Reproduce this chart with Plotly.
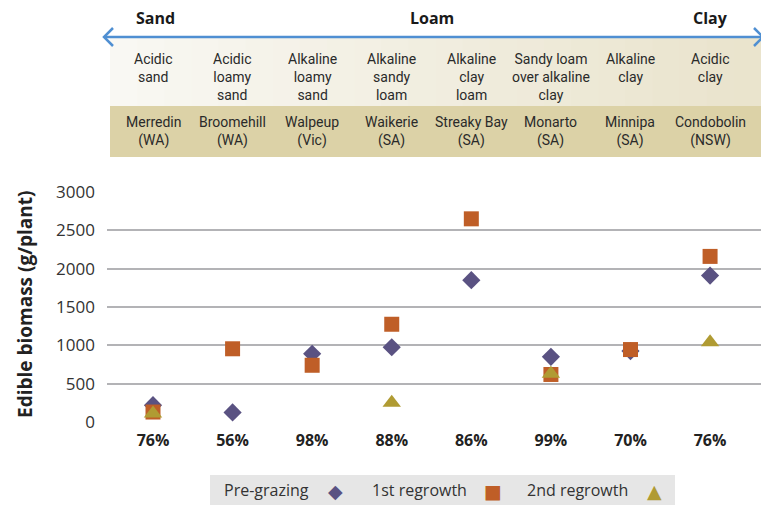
import plotly.graph_objects as go

# ---------------- data ----------------
sites = ["Merredin<br>(WA)", "Broomehill<br>(WA)", "Walpeup<br>(Vic)", "Waikerie<br>(SA)",
         "Streaky Bay<br>(SA)", "Monarto<br>(SA)", "Minnipa<br>(SA)", "Condobolin<br>(NSW)"]
soils = ["Acidic<br>sand", "Acidic<br>loamy<br>sand", "Alkaline<br>loamy<br>sand", "Alkaline<br>sandy<br>loam",
         "Alkaline<br>clay<br>loam", "Sandy loam<br>over alkaline<br>clay", "Alkaline<br>clay", "Acidic<br>clay"]
pct_labels = ["76%", "56%", "98%", "88%", "86%", "99%", "70%", "76%"]
texture_labels = ["Sand", "Loam", "Clay"]
texture_pos = [0.03, 3.5, 7.0]

pre_grazing = [220, 125, 890, 975, 1850, 850, 925, 1910]
regrowth_1 = [130, 955, 740, 1275, 2650, 620, 945, 2160]
regrowth_2 = [110, None, None, 250, None, 630, None, 1040]

yticks = [0, 500, 1000, 1500, 2000, 2500, 3000]

# ---------------- styling ----------------
C_DIA = "#5a5282"
C_SQ = "#bf5e27"
C_TRI = "#b09b33"
FONT = "Open Sans, Noto Sans, sans-serif"
NARROW = "Liberation Sans Narrow, Roboto, Open Sans, sans-serif"

W, H = 761, 505
ML, MR, MT, MB = 107, 0, 192, 83
PW, PH = W - ML - MR, H - MT - MB


def px(x):
    return (x - ML) / PW


def py(y):
    return (H - MB - y) / PH


xi = list(range(len(sites)))

fig = go.Figure()
fig.add_trace(go.Scatter(x=xi, y=pre_grazing, mode="markers", name="Pre-grazing",
                         marker=dict(symbol="diamond", size=14, color=C_DIA), cliponaxis=False))
fig.add_trace(go.Scatter(x=xi, y=regrowth_1, mode="markers", name="1st regrowth",
                         marker=dict(symbol="square", size=15, color=C_SQ), cliponaxis=False))
fig.add_trace(go.Scatter(x=xi, y=regrowth_2, mode="markers", name="2nd regrowth",
                         marker=dict(symbol="triangle-up", size=16, color=C_TRI), cliponaxis=False))

shapes = []
# light header gradient
x0p, x1p = 110, 761
n = 24
c0 = (249, 248, 243)
c1 = (234, 228, 205)
for i in range(n):
    t = i / (n - 1)
    col = "rgb(%d,%d,%d)" % tuple(int(c0[k] + (c1[k] - c0[k]) * t) for k in range(3))
    xa = x0p + (x1p - x0p) * i / n
    xb = x0p + (x1p - x0p) * (i + 1) / n + 1
    shapes.append(dict(type="rect", xref="paper", yref="paper", x0=px(xa), x1=px(xb),
                       y0=py(106), y1=py(38), fillcolor=col, line=dict(width=0), layer="below"))
# darker band
shapes.append(dict(type="rect", xref="paper", yref="paper", x0=px(110), x1=px(761),
                   y0=py(157), y1=py(106), fillcolor="#dcd2a7", line=dict(width=0), layer="below"))
# arrow line
ARC = "#4f8fd2"
shapes.append(dict(type="line", xref="paper", yref="paper", x0=px(104), x1=px(761),
                   y0=py(37), y1=py(37), line=dict(color=ARC, width=2.5)))
shapes.append(dict(type="path", xref="paper", yref="paper",
                   path="M %f %f L %f %f L %f %f" % (px(113), py(28), px(104), py(37), px(113), py(46)),
                   line=dict(color=ARC, width=2.5)))
shapes.append(dict(type="path", xref="paper", yref="paper",
                   path="M %f %f L %f %f L %f %f" % (px(754), py(28), px(763), py(37), px(754), py(46)),
                   line=dict(color=ARC, width=2.5)))
# legend box
shapes.append(dict(type="rect", xref="paper", yref="paper", x0=px(210), x1=px(675),
                   y0=py(505), y1=py(475), fillcolor="#e6e6e6", line=dict(width=0)))

ann = []
for lab, xp in zip(texture_labels, texture_pos):
    ann.append(dict(x=xp, xref="x", y=py(18), yref="paper", text="<b>%s</b>" % lab, showarrow=False,
                    font=dict(family=FONT, size=16, color="#1a1a1a"), xanchor="center", yanchor="middle"))
for i, s in enumerate(soils):
    ann.append(dict(x=i, xref="x", y=py(49), yref="paper", text=s, showarrow=False,
                    font=dict(family=NARROW, size=14, color="#2a2a2a"), xanchor="center", yanchor="top"))
for i, s in enumerate(sites):
    ann.append(dict(x=i, xref="x", y=py(131), yref="paper", text=s, showarrow=False,
                    font=dict(family=NARROW, size=14, color="#2a2a2a"), xanchor="center", yanchor="middle"))
# y title
ann.append(dict(x=px(25), xref="paper", y=py(305), yref="paper", text="<b>Edible biomass (g/plant)</b>",
                textangle=-90, showarrow=False, font=dict(family=FONT, size=19, color="#222"),
                xanchor="center", yanchor="middle"))
# legend entries
leg = [("Pre-grazing", "◆", C_DIA, 222, 335), ("1st regrowth", "■", C_SQ, 370, 493),
       ("2nd regrowth", "▲", C_TRI, 525, 654)]
for txt, g, col, x, xs in leg:
    ann.append(dict(x=px(x), xref="paper", y=py(490), yref="paper", text=txt,
                    showarrow=False, font=dict(family=FONT, size=16, color="#333"),
                    xanchor="left", yanchor="middle"))
    ann.append(dict(x=px(xs), xref="paper", y=py(491), yref="paper", text=g,
                    showarrow=False, font=dict(family="DejaVu Sans", size=19, color=col),
                    xanchor="center", yanchor="middle"))

fig.update_layout(
    width=W, height=H, margin=dict(l=ML, r=MR, t=MT, b=MB),
    paper_bgcolor="white", plot_bgcolor="white", showlegend=False,
    shapes=shapes, annotations=ann,
    xaxis=dict(range=[-0.578, 7.64], tickvals=xi, ticktext=["<b>%s</b>" % t for t in pct_labels],
               showgrid=False, zeroline=False, showline=False, ticks="",
               tickfont=dict(family=FONT, size=16, color="#222"), ticklabelstandoff=7),
    yaxis=dict(range=[0, 3000], tickvals=yticks, showgrid=True, gridcolor="#b3b3b6", gridwidth=2,
               zeroline=False, showline=False, ticks="",
               tickfont=dict(family=FONT, size=17, color="#333"), ticklabelstandoff=11),
)

fig.write_html("out.html", config={"displayModeBar": False},
               post_script="document.body.style.margin='0';document.body.style.overflow='hidden';")
